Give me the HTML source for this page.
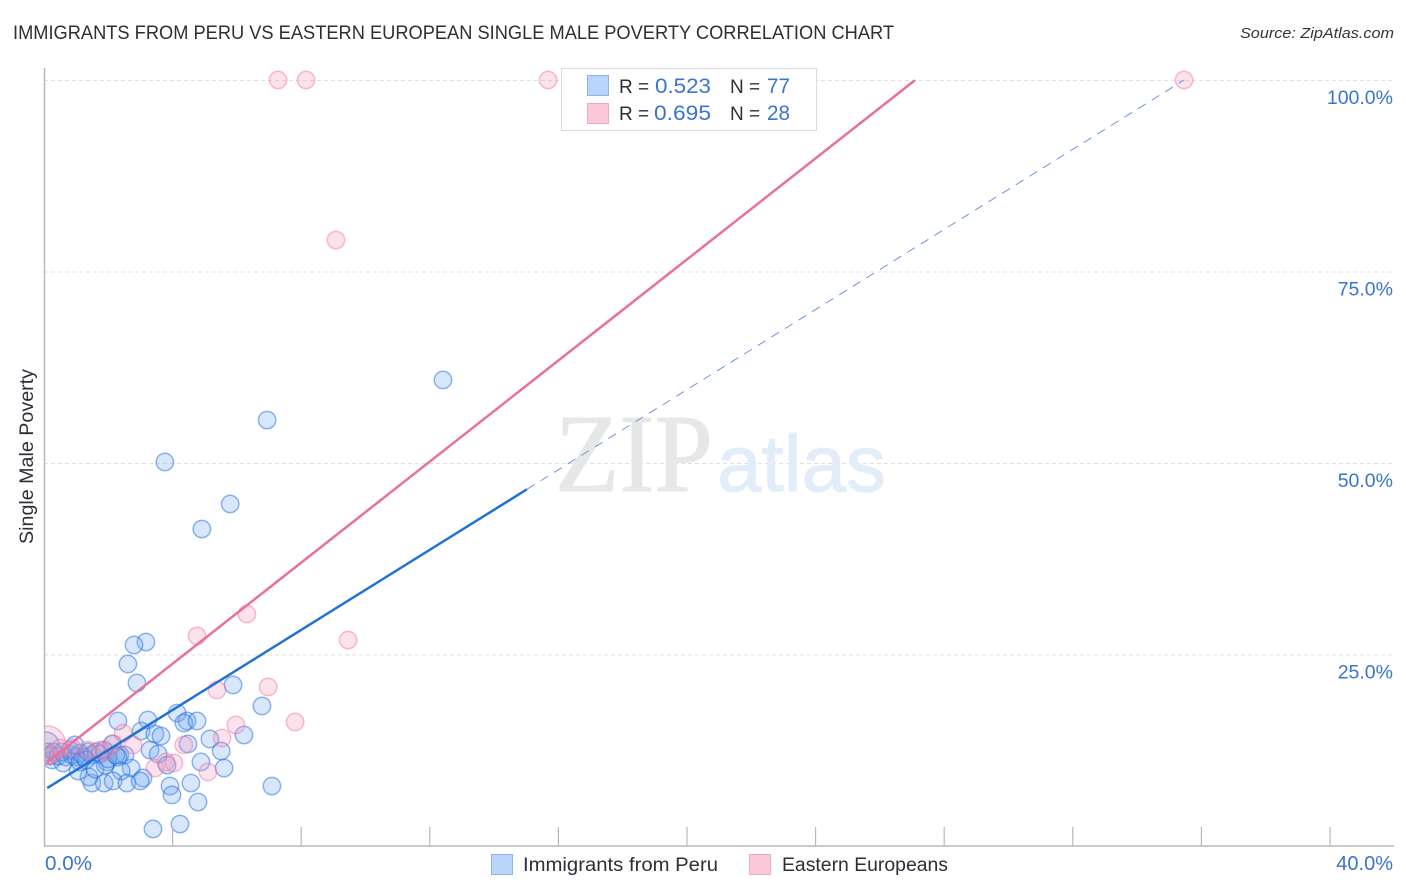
<!DOCTYPE html>
<html lang="en">
<head>
<meta charset="utf-8">
<title>Immigrants from Peru vs Eastern European Single Male Poverty Correlation Chart</title>
<style>
html,body{margin:0;padding:0;background:#fff;}
svg{display:block;font-family:"Liberation Sans",sans-serif;}
</style>
</head>
<body>
<svg id="chart" width="1406" height="892" viewBox="0 0 1406 892" xmlns="http://www.w3.org/2000/svg">
  <text x="13" y="39" font-size="19" fill="#2b2f36" textLength="881" lengthAdjust="spacingAndGlyphs">IMMIGRANTS FROM PERU VS EASTERN EUROPEAN SINGLE MALE POVERTY CORRELATION CHART</text>
  <text x="1394" y="38" font-size="15" font-style="italic" fill="#333" text-anchor="end" textLength="154" lengthAdjust="spacingAndGlyphs">Source: ZipAtlas.com</text>

  <g id="grid"></g>
  <g>
    <text x="555" y="491" font-family="'Liberation Serif',serif" font-size="111" fill="#e6e7e8" stroke="#e6e7e8" stroke-width="1" textLength="158" lengthAdjust="spacingAndGlyphs">ZIP</text>
    <text x="717" y="491" font-size="80" fill="#e3edfa" stroke="#e3edfa" stroke-width="1" textLength="169" lengthAdjust="spacingAndGlyphs">atlas</text>
  </g>
  <g id="points-blue"></g>
  <g id="points-red"></g>
  <rect x="0" y="60" width="44.5" height="790" fill="#fff"/>
  <g id="axes"></g>
  <g id="trends"></g>
  <g id="labels"></g>
  <text transform="translate(33,456.5) rotate(-90)" font-size="19" fill="#2b2f36" text-anchor="middle" textLength="175" lengthAdjust="spacingAndGlyphs">Single Male Poverty</text>

  <g>
    <rect x="561.5" y="68.5" width="255" height="62" fill="#fff" stroke="#dcdcdc" stroke-width="1"/>
    <rect x="587.5" y="75.5" width="21" height="20" fill="#b9d5f9" stroke="#8ab4ea"/>
    <rect x="587.5" y="103.5" width="21" height="20" fill="#fcc8d9" stroke="#f3a7c0"/>
    <text x="619" y="93" font-size="19" fill="#2b2f36">R =</text>
    <text x="655" y="93" font-size="21" fill="#3b73d1" textLength="56" lengthAdjust="spacingAndGlyphs">0.523</text>
    <text x="730" y="93" font-size="19" fill="#2b2f36">N =</text>
    <text x="767" y="93" font-size="21" fill="#3b73d1" textLength="23" lengthAdjust="spacingAndGlyphs">77</text>
    <text x="619" y="120" font-size="19" fill="#2b2f36">R =</text>
    <text x="654" y="120" font-size="21" fill="#3b73d1" textLength="57" lengthAdjust="spacingAndGlyphs">0.695</text>
    <text x="730" y="120" font-size="19" fill="#2b2f36">N =</text>
    <text x="767" y="120" font-size="21" fill="#3b73d1" textLength="23" lengthAdjust="spacingAndGlyphs">28</text>
  </g>

  <g>
    <rect x="491.5" y="854.5" width="21" height="20" fill="#b9d5f9" stroke="#8ab4ea"/>
    <text x="523" y="871" font-size="19" fill="#2b2f36" textLength="195" lengthAdjust="spacingAndGlyphs">Immigrants from Peru</text>
    <rect x="749.5" y="854.5" width="21" height="20" fill="#fcc8d9" stroke="#f3a7c0"/>
    <text x="782" y="871" font-size="19" fill="#2b2f36" textLength="166" lengthAdjust="spacingAndGlyphs">Eastern Europeans</text>
  </g>
</svg>
<script>
const xTickValues = [0,4,8,12,16,20,24,28,32,36,40];
const yGridValues = [25,50,75,100];
const yTickLabels = ["25.0%","50.0%","75.0%","100.0%"];
const xEndLabels = ["0.0%","40.0%"];

const blueX = [0.06,12.41,6.94,3.76,5.79,4.91,3.17,2.80,2.61,2.89,5.88,6.78,4.14,2.30,3.23,4.45,4.35,4.76,3.02,3.45,3.64,5.16,6.22,3.30,3.55,5.51,4.88,5.60,3.83,2.71,2.40,3.08,4.57,3.92,3.98,4.79,7.09,3.39,4.23,1.49,1.87,2.15,2.58,2.99,1.40,1.06,1.59,1.96,0.59,0.25,2.36,2.52,1.90,0.12,0.19,0.31,0.44,0.56,0.68,0.81,0.87,1.00,1.12,1.24,1.37,1.49,1.62,1.74,1.87,1.99,2.12,2.24,0.96,4.48,1.12,1.31,2.30];
const blueY = [13.2,60.84,55.61,50.13,44.65,41.38,26.63,26.24,23.76,21.28,21.02,18.28,17.36,16.32,16.45,16.32,16.06,16.32,15.01,14.62,14.36,13.97,14.49,12.53,12.01,12.40,10.97,10.18,10.57,10.18,9.79,8.88,8.22,7.83,6.66,5.74,7.83,2.22,2.87,8.22,8.22,8.49,8.22,8.49,9.01,9.79,10.05,10.97,10.84,11.23,11.88,11.88,10.57,12.27,11.75,12.27,11.75,12.27,11.62,12.53,11.88,11.62,12.14,11.62,12.27,11.88,12.27,12.01,12.53,11.36,13.32,11.88,13.19,13.32,10.97,11.23,11.62];
const blueWeight = [2.2];

const redX = [0.09,7.28,8.15,15.68,35.46,9.08,6.31,4.76,9.46,5.38,6.97,7.81,5.97,5.54,1.90,4.35,2.46,2.77,2.15,3.45,3.79,4.04,5.10,0.50,0.87,1.37,1.74,0.19];
const redY = [13.19,100,100,100,100,79.11,30.29,27.42,26.89,20.37,20.76,16.19,15.80,14.10,12.27,13.19,14.75,13.19,13.32,10.18,10.97,10.84,9.66,12.79,12.79,12.53,12.53,11.88];
const redWeight = [4.8];

const blueTrendIntercept = 7.3;
const blueTrendSlope = 2.614;
const blueTrendSolidEnd = 15.02;
const blueTrendDashEnd = 35.46;
const redTrendIntercept = 10.6;
const redTrendSlope = 3.299;
const redTrendEnd = 27.09;

const NS = "http://www.w3.org/2000/svg";
function xScale(v){ return 44 + v * 32.15; }
function yScale(v){ return 846 - v * 7.66; }
function make(tag, attrs, parent, text){
  const el = document.createElementNS(NS, tag);
  for (const k in attrs) el.setAttribute(k, attrs[k]);
  if (text !== undefined) el.textContent = text;
  document.getElementById(parent).appendChild(el);
  return el;
}

yGridValues.forEach(function(v, i){
  const grid = make("line", {x1:44, x2:1394, y1:yScale(v)+0.5, y2:yScale(v)+0.5, stroke:"#e0e0e0", "stroke-width":1, "stroke-dasharray":"4 3"}, "grid");
  
  
  const lab = make("text", {x:1393, y:yScale(v)+24, "font-size":19.5, fill:"#3b73d1", "text-anchor":"end"}, "labels", yTickLabels[i]);
  
  
});

const yAxisLine = make("line", {x1:44.5, x2:44.5, y1:68, y2:846, stroke:"#b8b8b8", "stroke-width":1.5}, "axes");


const xAxisLine = make("line", {x1:44, x2:1394, y1:846, y2:846, stroke:"#b8b8b8", "stroke-width":1.5}, "axes");



xTickValues.forEach(function(v){
  if (v === 0) return;
  const tick = make("line", {x1:xScale(v), x2:xScale(v), y1:827, y2:846, stroke:"#b8b8b8", "stroke-width":1.2}, "axes");
  
  
});

const xLabelStart = make("text", {x:45, y:870, "font-size":20, fill:"#3b73d1", textLength:47, lengthAdjust:"spacingAndGlyphs"}, "labels", xEndLabels[0]);


const xLabelEnd = make("text", {x:1393, y:870, "font-size":20, fill:"#3b73d1", "text-anchor":"end"}, "labels", xEndLabels[1]);



blueX.forEach(function(v, i){
  const w = blueWeight[i] || 1;
  const c = make("circle", {cx:xScale(v), cy:yScale(blueY[i]), r:8.7*Math.sqrt(w), fill:"rgba(110,165,240,0.27)", stroke:"rgba(35,110,220,0.5)", "stroke-width":1.5}, "points-blue");
  
  
});
redX.forEach(function(v, i){
  const w = redWeight[i] || 1;
  const c = make("circle", {cx:xScale(v), cy:yScale(redY[i]), r:8.7*Math.sqrt(w), fill:"rgba(245,150,185,0.28)", stroke:"rgba(235,110,155,0.45)", "stroke-width":1.5}, "points-red");
  
  
});

function blueLine(x){ return blueTrendIntercept + blueTrendSlope * x; }
function redLine(x){ return redTrendIntercept + redTrendSlope * x; }

const blueDash = make("line", {x1:xScale(blueTrendSolidEnd), y1:yScale(blueLine(blueTrendSolidEnd)), x2:xScale(blueTrendDashEnd), y2:yScale(blueLine(blueTrendDashEnd)), stroke:"#6f93d6", "stroke-width":1, "stroke-dasharray":"9 7"}, "trends");


const blueSolid = make("line", {x1:xScale(0.1), y1:yScale(blueLine(0.1)), x2:xScale(blueTrendSolidEnd), y2:yScale(blueLine(blueTrendSolidEnd)), stroke:"#2272d6", "stroke-width":2.5}, "trends");


const redSolid = make("line", {x1:xScale(0.1), y1:yScale(redLine(0.1)), x2:xScale(redTrendEnd), y2:yScale(redLine(redTrendEnd)), stroke:"#e8709a", "stroke-width":2.5}, "trends");


</script>
</body>
</html>
